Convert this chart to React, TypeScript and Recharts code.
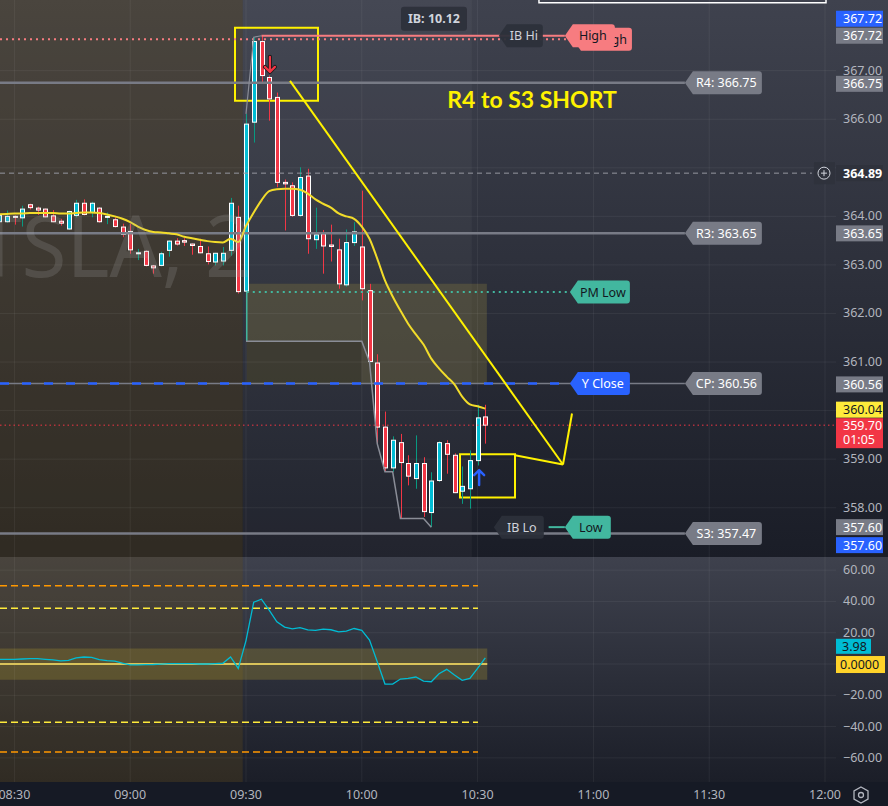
import React from 'react'
import {
  ComposedChart,
  Bar,
  Line,
  XAxis,
  YAxis,
  ReferenceLine,
  ReferenceArea,
  ReferenceDot,
} from 'recharts'

// 2-minute TSLA bars, 08:26 -> 10:32
const times = [
  '08:26', '08:28', '08:30', '08:32', '08:34', '08:36', '08:38', '08:40', '08:42', '08:44', '08:46', '08:48',
  '08:50', '08:52', '08:54', '08:56', '08:58', '09:00', '09:02', '09:04', '09:06', '09:08', '09:10', '09:12',
  '09:14', '09:16', '09:18', '09:20', '09:22', '09:24', '09:26', '09:28',
  '09:30', '09:32', '09:34', '09:36', '09:38', '09:40', '09:42', '09:44', '09:46', '09:48', '09:50', '09:52',
  '09:54', '09:56', '09:58', '10:00', '10:02', '10:04', '10:06', '10:08', '10:10', '10:12', '10:14', '10:16',
  '10:18', '10:20', '10:22', '10:24', '10:26', '10:28', '10:30', '10:32',
]
const opens = [
  363.89, 363.89, 364.0, 363.97, 364.24, 364.17, 364.15, 364.01, 363.9, 363.74, 364.02, 364.27,
  364.08, 364.17, 363.99, 363.93, 363.78, 363.69, 363.24, 363.28, 362.98, 362.99, 363.3, 363.49,
  363.5, 363.43, 363.38, 363.23, 363.06, 363.08, 363.3, 363.98,
  362.46, 365.94, 367.6, 366.86, 366.45, 364.7, 364.63, 364.02, 364.83, 363.52, 363.64, 363.41,
  363.31, 362.59, 363.46, 363.37, 362.47, 360.98, 359.66, 358.82, 359.34, 358.91, 358.6, 358.91,
  357.9, 358.56, 359.32, 359.08, 358.34, 358.39, 358.97, 359.87,
]
const highs = [
  364.05, 364.12, 364.02, 364.22, 364.26, 364.2, 364.16, 364.13, 363.95, 364.12, 364.34, 364.35,
  364.3, 364.19, 364.08, 363.98, 363.85, 363.85, 363.33, 363.3, 363.0, 363.27, 363.51, 363.55,
  363.55, 363.44, 363.54, 363.38, 363.25, 363.37, 364.38, 364.22,
  366.11, 367.69, 367.72, 366.9, 366.55, 364.76, 364.7, 365.01, 364.98, 364.18, 363.72, 363.83,
  363.54, 363.73, 363.88, 364.53, 362.61, 361.16, 359.98, 359.47, 359.52, 359.08, 359.49, 359.04,
  358.73, 359.37, 359.39, 359.12, 358.85, 359.18, 360.12, 360.12,
]
const lows = [
  363.85, 363.87, 363.83, 363.79, 364.14, 364.03, 363.98, 363.88, 363.81, 363.72, 363.98, 364.02,
  363.98, 363.87, 363.84, 363.77, 363.57, 363.23, 363.1, 362.97, 362.82, 362.97, 363.17, 363.4,
  363.39, 363.21, 363.24, 363.01, 362.99, 362.99, 363.19, 362.41,
  362.42, 365.52, 366.73, 365.97, 364.6, 363.71, 363.99, 363.99, 363.23, 363.33, 362.82, 363.07,
  362.51, 362.55, 363.39, 362.27, 361.0, 359.32, 358.74, 358.74, 357.78, 358.46, 358.39, 357.81,
  357.6, 358.53, 358.7, 358.3, 358.08, 357.98, 358.87, 359.32,
]
const closes = [
  364.02, 364.0, 363.99, 364.15, 364.18, 364.13, 363.99, 363.89, 363.86, 364.1, 364.27, 364.04,
  364.27, 363.89, 364.0, 363.79, 363.63, 363.31, 363.25, 362.99, 362.94, 363.23, 363.49, 363.43,
  363.47, 363.4, 363.25, 363.07, 363.24, 363.24, 364.27, 362.45,
  365.9, 367.6, 366.9, 366.42, 364.7, 364.67, 364.02, 364.8, 363.54, 363.62, 363.39, 363.38,
  362.61, 363.46, 363.68, 362.51, 361.01, 359.66, 358.82, 359.39, 358.93, 358.65, 358.91, 357.92,
  358.55, 359.34, 359.1, 358.31, 358.44, 358.97, 359.85, 359.7,
]
// yellow moving average
const avgLine = [
  364.04, 364.05, 364.06, 364.06, 364.07, 364.07, 364.07, 364.07, 364.06, 364.06, 364.07, 364.08,
  364.08, 364.07, 364.04, 364.0, 363.95, 363.88, 363.79, 363.72, 363.68, 363.67, 363.65, 363.63,
  363.58, 363.55, 363.52, 363.49, 363.47, 363.46, 363.54, 363.47,
  363.8, 364.08, 364.33, 364.52, 364.56, 364.57, 364.57, 364.55, 364.47, 364.35, 364.26, 364.18,
  364.06, 364.0, 363.95, 363.79, 363.54, 363.13, 362.68, 362.35, 362.06, 361.79, 361.57, 361.36,
  361.07, 360.87, 360.7, 360.54, 360.29, 360.13, 360.09, 360.04,
]
// lower pane oscillator
const oscValues = [
  3.0, 3.0, 3.0, 3.2, 3.5, 3.4, 3.0, 2.6, 2.0, 2.3, 4.0, 4.5,
  4.2, 2.8, 2.2, 1.8, 0.5, -0.5, -0.6, -0.4, -0.3, 0.0, 0.3, 0.3,
  0.2, 0.2, 0.0, 0.0, 0.2, 0.5, 4.5, -2.8,
  15.0, 39.5, 41.4, 34.5, 27.0, 23.6, 22.5, 23.2, 21.8, 21.5, 22.3, 21.9,
  20.6, 21.0, 22.7, 21.5, 15.3, 1.5, -12.8, -12.8, -9.6, -9.2, -8.3, -10.9,
  -11.3, -6.2, -3.4, -7.0, -10.4, -9.2, -2.8, 3.98,
]
// session high / low trackers from the 09:30 open
const highTrack = [366.11, 367.69, 367.72]
const lowTrack = [
  361.43, 361.43, 361.43, 361.43, 361.43, 361.43, 361.43, 361.43, 361.43, 361.43, 361.43, 361.43,
  361.43, 361.43, 361.43, 361.43, 361.0, 359.32, 358.74, 358.74, 357.78, 357.78, 357.78, 357.78, 357.6,
]

const priceGrid = [358, 359, 360, 361, 362, 363, 364, 365, 366, 367]
// 365 and 360 sit under the crosshair / MA badges, so no label is drawn for them
const priceLabels = [358, 359, 361, 362, 363, 364, 366, 367]
const oscTicks = [-60, -40, -20, 20, 40, 60]
const oscGrid = [-60, -40, -20, 0, 20, 40, 60]
const timeTicks = ['08:30', '09:00', '09:30', '10:00', '10:30', '11:00', '11:30', '12:00']

// price levels
const R4 = 366.75
const R3 = 363.65
const CP = 360.56
const S3 = 357.47
const DAY_HIGH = 367.72
const PM_HIGH = 367.65
const PM_LOW = 362.44
const Y_CLOSE = 360.56
const IB_LOW = 357.6
const LAST = 359.7
const CROSS = 364.89
const IB_RANGE = 10.12
const OSC_LAST = 3.98

const axisMarks = [367.72, 367.72, 366.75, 364.89, 363.65, 360.56, 360.04, 359.7, 357.6, 357.6]
const axisMarkColors = ['#2962ff', '#787b86', '#787b86', '#2f323c', '#787b86', '#787b86', '#ffeb3b', '#f23645', '#787b86', '#2962ff']
const axisMarkShift = [-17, 0, 1, 0, 0, 1, 1, 0, 0, 18]

const toMin = (s: string) => {
  const [h, m] = s.split(':').map(Number)
  return h * 60 + m
}
const fmtTime = (v: number) => `${String(Math.floor(v / 60)).padStart(2, '0')}:${String(v % 60).padStart(2, '0')}`

const OPEN_IDX = times.indexOf('09:30')
const rows = times.map((t, i) => {
  const k = i - OPEN_IDX
  return {
    t: toMin(t),
    o: opens[i],
    h: highs[i],
    l: lows[i],
    c: closes[i],
    ma: avgLine[i],
    osc: oscValues[i],
    hiTrack: k >= 0 && k < highTrack.length ? highTrack[k] : null,
    loTrack: k >= 0 && k < lowTrack.length ? lowTrack[k] : null,
  }
})

const X_MIN = 506.27
const X_MAX = 722.85
const PRICE_DOMAIN = [356.985, 368.456]
const OSC_DOMAIN = [-75.4, 68.4]
const AXIS_X = 836
const FONT = '"Noto Sans", Roboto, sans-serif'
const UP = '#00bcd4'
const DOWN = '#f23645'
const UP_WICK = '#089981'
const GRID = 'rgba(255,255,255,0.06)'
const GRAY = '#787b86'
const SALMON = '#f77c80'
const TEAL = '#42b79f'
const BLUE = '#2962ff'
const YELLOW = '#fff200'
const PREMARKET = 'rgba(100,76,25,0.3)'

const OPEN_T = 569.15
const IB_END_T = 628.5
const TAG_A = 652.6
const TAG_B = 653.9
const TAG_R = 683.7
const TAG_IB = 635.5

function Candle(props: any) {
  const { x, y, width, height, payload } = props
  if (x == null || y == null || !payload) return null
  const { o, h, l, c } = payload
  const top = Math.min(y, y + height)
  const bottom = Math.max(y, y + height)
  const span = h - l
  const py = (p: number) => (span === 0 ? top : top + ((h - p) / span) * (bottom - top))
  const cx = Math.round(x + width / 2) + 0.5
  const up = c >= o
  const bTop = py(Math.max(o, c))
  const bh = Math.max(py(Math.min(o, c)) - bTop, 1)
  return (
    <g>
      <line x1={cx} x2={cx} y1={top} y2={bottom} stroke={up ? UP_WICK : DOWN} strokeWidth={1} />
      <rect x={cx - 2} y={bTop} width={4} height={bh} fill={up ? UP : DOWN} stroke="#ffffff" strokeWidth={1} />
    </g>
  )
}

function Tag({ cx, cy, w, text, bg, fg, textX }: any) {
  const h = 23
  const tip = 8
  const t = cy - h / 2
  const b = cy + h / 2
  const d = `M${cx},${cy} L${cx + tip},${t} L${cx + w - 3},${t} Q${cx + w},${t} ${cx + w},${t + 3} L${cx + w},${b - 3} Q${cx + w},${b} ${cx + w - 3},${b} L${cx + tip},${b} Z`
  return (
    <g>
      <path d={d} fill={bg} />
      <text x={textX != null ? cx + textX : cx + tip + (w - tip) / 2 - 1} y={cy + 4.5} textAnchor="middle" fill={fg} fontSize={12.5} fontFamily={FONT}>
        {text}
      </text>
    </g>
  )
}

function PriceTick(props: any) {
  const { y, payload } = props
  const v = payload.value
  const out: any[] = []
  if (priceLabels.includes(v)) {
    out.push(
      <text key="t" x={AXIS_X + 7} y={y + 4} fill="#b2b5be" fontSize={12.5} fontFamily={FONT}>
        {v.toFixed(2)}
      </text>,
    )
  }
  axisMarks.forEach((m, i) => {
    if (m !== v) return
    const bg = axisMarkColors[i]
    const fg = bg === '#ffeb3b' ? '#131722' : '#ffffff'
    const cy = y + axisMarkShift[i]
    const last = m === LAST
    out.push(
      <g key={i}>
        <rect x={AXIS_X} y={last ? cy - 7 : cy - 8} width={47} height={last ? 30 : 16} fill={bg} />
        <text x={AXIS_X + 7} y={cy + 4.5} fill={fg} fontSize={12.5} fontFamily={FONT} fontWeight={bg === '#2f323c' ? 'bold' : 'normal'}>
          {m.toFixed(2)}
        </text>
        {last && (
          <text x={AXIS_X + 7} y={cy + 19} fill={fg} fontSize={12.5} fontFamily={FONT}>
            01:05
          </text>
        )}
      </g>,
    )
  })
  return <g>{out}</g>
}

function OscTick(props: any) {
  const { y, payload } = props
  const v = payload.value
  if (v === OSC_LAST) {
    return (
      <g>
        <rect x={AXIS_X} y={y - 19} width={35} height={15} fill="#00bcd4" />
        <text x={AXIS_X + 6} y={y - 7} fill="#131722" fontSize={12.5} fontFamily={FONT}>{v.toFixed(2)}</text>
      </g>
    )
  }
  if (v === 0) {
    return (
      <g>
        <rect x={AXIS_X} y={y - 8} width={49} height={17} fill="#ffd32a" />
        <text x={AXIS_X + 4} y={y + 5} fill="#131722" fontSize={12.5} fontFamily={FONT}>0.0000</text>
      </g>
    )
  }
  const label = v < 0 ? `\u2212${Math.abs(v).toFixed(2)}` : v.toFixed(2)
  return (
    <text x={AXIS_X + 7} y={y + 4} fill="#b2b5be" fontSize={12.5} fontFamily={FONT}>
      {label}
    </text>
  )
}

function TimeTick(props: any) {
  const { x, payload } = props
  return (
    <text x={x} y={242} textAnchor="middle" fill="#b2b5be" fontSize={12.5} fontFamily={FONT}>
      {fmtTime(payload.value)}
    </text>
  )
}

const seg = (x1: number, x2: number, y1: number, y2: number = y1) => [
  { x: x1, y: y1 },
  { x: x2, y: y2 },
]

export default function App() {
  return (
    <div style={{ position: 'fixed', left: 0, top: 0, width: 888, height: 806, background: '#161a25', overflow: 'hidden' }}>
      <div style={{ position: 'absolute', left: 0, top: 0, width: 888, height: 557, background: 'linear-gradient(#3f424e, #1a1d27)' }} />
      <div style={{ position: 'absolute', left: 0, top: 557, width: 888, height: 225, background: 'linear-gradient(#3e414d, #1b1e28)' }} />

      {/* price pane */}
      <div style={{ position: 'absolute', left: 0, top: 0 }}>
        <ComposedChart width={888} height={557} data={rows} margin={{ top: 0, right: 0, bottom: 0, left: 0 }}>
          <XAxis dataKey="t" type="number" domain={[X_MIN, X_MAX]} allowDataOverflow hide />
          <YAxis
            orientation="right"
            width={52}
            domain={PRICE_DOMAIN}
            allowDataOverflow
            ticks={[...priceLabels, ...Array.from(new Set(axisMarks))]}
            interval={0}
            tick={<PriceTick />}
            axisLine={false}
            tickLine={false}
          />

          <ReferenceArea x1={X_MIN} x2={OPEN_T} fill={PREMARKET} fillOpacity={1} ifOverflow="hidden" />
          <ReferenceArea x1={OPEN_T} x2={IB_END_T} fill="rgba(255,255,255,0.035)" fillOpacity={1} ifOverflow="hidden" />
          <ReferenceArea x1={570.2} x2={632.4} y1={362.61} y2={360.56} fill="rgba(130,118,64,0.35)" fillOpacity={1} ifOverflow="hidden" />
          <ReferenceArea x1={570.2} x2={600} y1={361.43} y2={360.56} fill="rgba(0,0,0,0.18)" fillOpacity={1} ifOverflow="hidden" />

          {priceGrid.map((p) => (
            <ReferenceLine key={`g${p}`} y={p} stroke={GRID} strokeWidth={1} />
          ))}
          {timeTicks.map((t) => (
            <ReferenceLine key={`v${t}`} x={toMin(t)} stroke={GRID} strokeWidth={1} />
          ))}

          {/* watermark */}
          <ReferenceDot
            x={X_MIN}
            y={362.76}
            r={0}
            ifOverflow="visible"
            shape={(p: any) => (
              <text x={p.cx - 24} y={p.cy} fill="rgba(170,170,170,0.2)" fontSize={86} fontFamily={FONT} textLength={276} lengthAdjust="spacingAndGlyphs">
                TSLA, 2
              </text>
            )}
          />

          {/* level lines */}
          <ReferenceLine segment={seg(X_MIN, 654.7, PM_HIGH)} stroke={SALMON} strokeWidth={2} strokeDasharray="2 4" ifOverflow="visible" />
          <ReferenceDot x={TAG_IB} y={DAY_HIGH} r={0} ifOverflow="visible" shape={(p: any) => <Tag cx={p.cx} cy={p.cy} w={44} text="IB Hi" bg="rgba(44,48,58,0.95)" fg="#d1d4dc" />} />
          <ReferenceLine segment={seg(574, TAG_A, DAY_HIGH)} stroke={SALMON} strokeWidth={2} ifOverflow="visible" />
          <ReferenceDot x={654.7} y={PM_HIGH} r={0} ifOverflow="visible" shape={(p: any) => <Tag cx={p.cx} cy={p.cy} w={59} text="High" bg={SALMON} fg="#131722" textX={40} />} />
          <ReferenceDot x={TAG_A} y={DAY_HIGH} r={0} ifOverflow="visible" shape={(p: any) => <Tag cx={p.cx} cy={p.cy} w={50} text="High" bg={SALMON} fg="#131722" />} />

          <ReferenceLine segment={seg(X_MIN, TAG_R, R4)} stroke={GRAY} strokeWidth={2.5} ifOverflow="visible" />
          <ReferenceLine segment={seg(X_MIN, 716.6, CROSS)} stroke="#9598a1" strokeWidth={1} strokeDasharray="5 4" ifOverflow="visible" />
          <ReferenceLine segment={seg(X_MIN, TAG_R, R3)} stroke={GRAY} strokeWidth={2.5} ifOverflow="visible" />
          <ReferenceLine segment={seg(570.2, TAG_B, PM_LOW)} stroke={TEAL} strokeWidth={2} strokeDasharray="2 4" ifOverflow="visible" />
          <ReferenceLine segment={seg(570.2, 570.2, PM_LOW, 361.43)} stroke={TEAL} strokeWidth={1.5} ifOverflow="visible" />
          <ReferenceLine segment={seg(X_MIN, TAG_R, CP)} stroke={GRAY} strokeWidth={1.5} ifOverflow="visible" />
          <ReferenceLine segment={seg(X_MIN, TAG_B, Y_CLOSE)} stroke={BLUE} strokeWidth={2.5} strokeDasharray="9 13" ifOverflow="visible" />
          <ReferenceLine segment={seg(X_MIN, TAG_R, S3)} stroke={GRAY} strokeWidth={2.5} ifOverflow="visible" />
          <ReferenceDot x={TAG_IB - 1.3} y={IB_LOW} r={0} ifOverflow="visible" shape={(p: any) => <Tag cx={p.cx} cy={p.cy} w={50} text="IB Lo" bg="rgba(44,48,58,0.95)" fg="#d1d4dc" />} />
          <ReferenceLine segment={seg(648.4, TAG_A, IB_LOW)} stroke={TEAL} strokeWidth={2} ifOverflow="visible" />
          <ReferenceLine segment={seg(X_MIN, X_MAX, LAST)} stroke={DOWN} strokeWidth={1} strokeDasharray="1.5 3" ifOverflow="visible" />

          <Line dataKey="hiTrack" stroke="#8a8d97" strokeWidth={1.2} dot={false} isAnimationActive={false} connectNulls={false} />
          <Line dataKey="loTrack" stroke="#8a8d97" strokeWidth={1.5} dot={false} isAnimationActive={false} connectNulls={false} />
          <Line dataKey="ma" stroke="#f2dc2a" strokeWidth={2} dot={false} type="monotone" isAnimationActive={false} />

          <Bar dataKey={(d: any) => [d.l, d.h]} shape={Candle} barSize={6} isAnimationActive={false} />

          {/* tags */}
          <ReferenceDot x={TAG_R} y={R4} r={0} ifOverflow="visible" shape={(p: any) => <Tag cx={p.cx} cy={p.cy} w={77} text={`R4: ${R4.toFixed(2)}`} bg={GRAY} fg="#ffffff" />} />
          <ReferenceDot x={TAG_R} y={R3} r={0} ifOverflow="visible" shape={(p: any) => <Tag cx={p.cx} cy={p.cy} w={77} text={`R3: ${R3.toFixed(2)}`} bg={GRAY} fg="#ffffff" />} />
          <ReferenceDot x={TAG_R} y={CP} r={0} ifOverflow="visible" shape={(p: any) => <Tag cx={p.cx} cy={p.cy} w={77} text={`CP: ${CP.toFixed(2)}`} bg={GRAY} fg="#ffffff" />} />
          <ReferenceDot x={TAG_R} y={S3} r={0} ifOverflow="visible" shape={(p: any) => <Tag cx={p.cx} cy={p.cy} w={77} text={`S3: ${S3.toFixed(2)}`} bg={GRAY} fg="#ffffff" />} />
          <ReferenceDot x={TAG_B} y={PM_LOW} r={0} ifOverflow="visible" shape={(p: any) => <Tag cx={p.cx} cy={p.cy} w={60} text="PM Low" bg={TEAL} fg="#131722" />} />
          <ReferenceDot x={TAG_B} y={Y_CLOSE} r={0} ifOverflow="visible" shape={(p: any) => <Tag cx={p.cx} cy={p.cy} w={60} text="Y Close" bg={BLUE} fg="#ffffff" />} />
          <ReferenceDot x={TAG_A} y={IB_LOW} r={0} ifOverflow="visible" shape={(p: any) => <Tag cx={p.cx} cy={p.cy} w={46} text="Low" bg={TEAL} fg="#131722" />} />

          {/* IB range box */}
          <ReferenceDot
            x={618.7}
            y={368.07}
            r={0}
            ifOverflow="visible"
            shape={(p: any) => (
              <g>
                <rect x={p.cx - 33} y={p.cy - 12} width={66} height={24} rx={3} fill="rgba(44,48,58,0.9)" />
                <text x={p.cx} y={p.cy + 4.5} textAnchor="middle" fill="#d1d4dc" fontSize={12.5} fontWeight="bold" fontFamily={FONT}>
                  {`IB: ${IB_RANGE.toFixed(2)}`}
                </text>
              </g>
            )}
          />

          {/* crosshair marker */}
          <ReferenceDot
            x={719.74}
            y={CROSS}
            r={0}
            ifOverflow="visible"
            shape={(p: any) => (
              <g>
                <rect x={p.cx - 10} y={p.cy - 11} width={21} height={22} fill="rgba(47,50,60,0.9)" />
                <circle cx={p.cx} cy={p.cy} r={6} fill="none" stroke="#d1d4dc" strokeWidth={1} />
                <line x1={p.cx - 3} x2={p.cx + 3} y1={p.cy} y2={p.cy} stroke="#d1d4dc" />
                <line x1={p.cx} x2={p.cx} y1={p.cy - 3} y2={p.cy + 3} stroke="#d1d4dc" />
              </g>
            )}
          />

          {/* top white frame */}
          <ReferenceArea x1={645.9} x2={720.26} y1={368.4} y2={369.5} fill="none" fillOpacity={0} stroke="#ffffff" strokeWidth={1.5} ifOverflow="visible" />

          {/* trade drawing */}
          <ReferenceArea x1={567.15} x2={588.65} y1={367.885} y2={366.38} fill="none" fillOpacity={0} stroke={YELLOW} strokeWidth={2} ifOverflow="visible" />
          <ReferenceArea x1={625.44} x2={639.69} y1={359.1} y2={358.21} fill="none" fillOpacity={0} stroke={YELLOW} strokeWidth={2} ifOverflow="visible" />
          <ReferenceLine segment={seg(581.4, 652.12, 366.79, 358.89)} stroke={YELLOW} strokeWidth={2} ifOverflow="visible" />
          <ReferenceLine segment={seg(639.69, 652.12, 359.08, 358.89)} stroke={YELLOW} strokeWidth={2} ifOverflow="visible" />
          <ReferenceLine segment={seg(652.12, 654.46, 358.89, 359.94)} stroke={YELLOW} strokeWidth={2} ifOverflow="visible" />
          <ReferenceDot
            x={644.1}
            y={366.24}
            r={0}
            ifOverflow="visible"
            shape={(p: any) => (
              <text x={p.cx} y={p.cy} textAnchor="middle" fill={YELLOW} fontSize={23} fontWeight="bold" fontFamily="Lato, sans-serif">
                R4 to S3 SHORT
              </text>
            )}
          />
          <ReferenceDot
            x={576.2}
            y={367.12}
            r={0}
            ifOverflow="visible"
            shape={(p: any) => (
              <g fill="none" strokeLinecap="round" strokeLinejoin="round">
                <path d={`M${p.cx},${p.cy - 8} L${p.cx},${p.cy + 7} M${p.cx - 5},${p.cy + 2} L${p.cx},${p.cy + 7} L${p.cx + 5},${p.cy + 2}`} stroke="#1b1b1b" strokeWidth={4} />
                <path d={`M${p.cx},${p.cy - 8} L${p.cx},${p.cy + 7} M${p.cx - 5},${p.cy + 2} L${p.cx},${p.cy + 7} L${p.cx + 5},${p.cy + 2}`} stroke={DOWN} strokeWidth={2.2} />
              </g>
            )}
          />
          <ReferenceDot
            x={630.4}
            y={358.63}
            r={0}
            ifOverflow="visible"
            shape={(p: any) => (
              <path
                d={`M${p.cx},${p.cy + 8} L${p.cx},${p.cy - 7} M${p.cx - 5},${p.cy - 2} L${p.cx},${p.cy - 7} L${p.cx + 5},${p.cy - 2}`}
                fill="none"
                stroke={BLUE}
                strokeWidth={2.4}
                strokeLinecap="round"
                strokeLinejoin="round"
              />
            )}
          />
        </ComposedChart>
      </div>

      {/* oscillator pane */}
      <div style={{ position: 'absolute', left: 0, top: 557 }}>
        <ComposedChart width={888} height={249} data={rows} margin={{ top: 0, right: 0, bottom: 0, left: 0 }}>
          <XAxis
            dataKey="t"
            type="number"
            domain={[X_MIN, X_MAX]}
            allowDataOverflow
            ticks={timeTicks.map(toMin)}
            interval={0}
            tick={<TimeTick />}
            axisLine={false}
            tickLine={false}
            height={24}
          />
          <YAxis
            orientation="right"
            width={52}
            domain={OSC_DOMAIN}
            allowDataOverflow
            ticks={[...oscTicks, 0, OSC_LAST]}
            interval={0}
            tick={<OscTick />}
            axisLine={false}
            tickLine={false}
          />
          <ReferenceArea x1={X_MIN} x2={OPEN_T} fill={PREMARKET} fillOpacity={1} ifOverflow="hidden" />
          {oscGrid.map((v) => (
            <ReferenceLine key={`og${v}`} y={v} stroke={GRID} strokeWidth={1} />
          ))}
          {timeTicks.map((t) => (
            <ReferenceLine key={`ov${t}`} x={toMin(t)} stroke={GRID} strokeWidth={1} />
          ))}
          <ReferenceArea x1={X_MIN} x2={632.5} y1={-10} y2={10} fill="rgba(170,150,50,0.3)" fillOpacity={1} ifOverflow="hidden" />
          <ReferenceLine segment={seg(X_MIN, 630.1, 50)} stroke="#ff9800" strokeWidth={1.5} strokeDasharray="7 4" ifOverflow="visible" />
          <ReferenceLine segment={seg(X_MIN, 630.1, 35.6)} stroke="#ffeb3b" strokeWidth={1.5} strokeDasharray="7 4" ifOverflow="visible" />
          <ReferenceLine segment={seg(X_MIN, 630.1, -37.2)} stroke="#ffeb3b" strokeWidth={1.5} strokeDasharray="7 4" ifOverflow="visible" />
          <ReferenceLine segment={seg(X_MIN, 630.1, -56.3)} stroke="#ff9800" strokeWidth={1.5} strokeDasharray="7 4" ifOverflow="visible" />
          <ReferenceLine segment={seg(X_MIN, 632.5, 0)} stroke="#d9c35a" strokeWidth={2} ifOverflow="visible" />
          <Line dataKey="osc" stroke="#00bcd4" strokeWidth={1.3} dot={false} isAnimationActive={false} />
        </ComposedChart>
      </div>

      <svg style={{ position: 'absolute', left: 850, top: 784 }} width={22} height={22}>
        <path d="M11,3 L18,7 L18,15 L11,19 L4,15 L4,7 Z" fill="none" stroke="#b2b5be" strokeWidth={1.3} />
        <circle cx={11} cy={11} r={2.5} fill="none" stroke="#b2b5be" strokeWidth={1.3} />
      </svg>
    </div>
  )
}
